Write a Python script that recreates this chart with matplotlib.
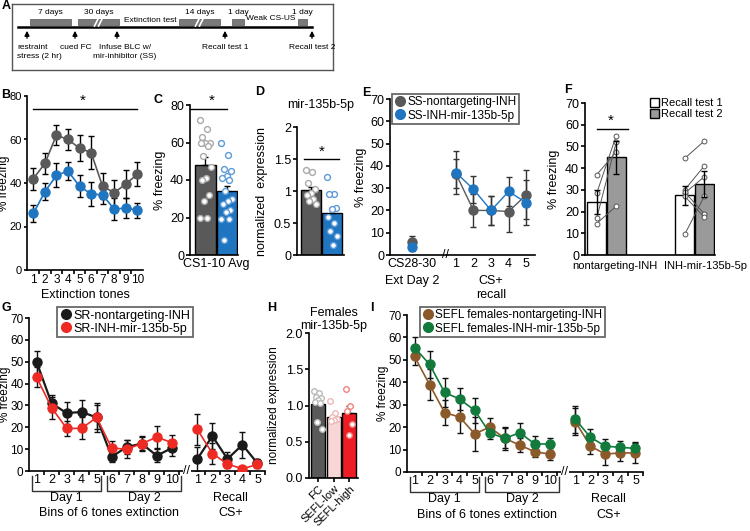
import matplotlib
matplotlib.use('Agg')
import matplotlib.pyplot as plt
from matplotlib.lines import Line2D
from matplotlib.patches import Patch, Rectangle
import numpy as np

plt.rcParams['font.family'] = ['Liberation Sans', 'DejaVu Sans']
plt.rcParams['font.size'] = 8.5
plt.rcParams['axes.linewidth'] = 1.2
plt.rcParams['xtick.major.width'] = 1.2
plt.rcParams['ytick.major.width'] = 1.2
plt.rcParams['xtick.minor.width'] = 1.2
plt.rcParams['xtick.major.size'] = 3
plt.rcParams['ytick.major.size'] = 3
plt.rcParams['xtick.major.pad'] = 1.5
plt.rcParams['ytick.major.pad'] = 1.2

# ---- data ----
# A (timeline text)
a_intervals = ['7 days', '30 days', '14 days', '1 day', '1 day']
a_phases = ['Extinction test', 'Weak CS-US']
a_events = ['restraint\nstress (2 hr)', 'cued FC', 'Infuse BLC w/\nmir-inhibitor (SS)',
            'Recall test 1', 'Recall test 2']

# B
b_tones = list(range(1, 11))
b_ctrl = [42, 49, 62, 60, 56, 54, 38.5, 35.5, 39.5, 44]
b_ctrl_err = [5, 5, 4.5, 5, 6, 7.5, 6, 6, 6.5, 5.5]
b_inh = [26, 36, 43.5, 45.5, 38.5, 35, 34.5, 28, 28.5, 27.5]
b_inh_err = [4, 4, 5.5, 4, 5, 5.5, 4, 5, 4.5, 3.5]

# C
c_means = [48, 34]
c_err = [4.5, 3]
c_ctrl_pts = [72, 67, 63, 60, 60, 60, 58, 53, 47, 41, 40, 32, 29, 20, 20]
c_inh_pts = [59.5, 53.5, 46, 45, 42, 41, 40, 34, 30, 29, 27, 24, 23, 19, 19, 8]

# D
d_means = [1.02, 0.65]
d_err = [0.05, 0.09]
d_ctrl_pts = [1.33, 1.30, 1.12, 1.03, 0.97, 0.93, 0.88, 0.85, 0.80]
d_inh_pts = [1.22, 0.95, 0.95, 0.73, 0.72, 0.6, 0.5, 0.37, 0.3, 0.15]

# E
e_ext_ctrl, e_ext_ctrl_err = 6, 2.5
e_ext_inh, e_ext_inh_err = 3.5, 1.5
e_recall = [1, 2, 3, 4, 5]
e_ctrl = [36.5, 20, 20, 19.5, 27]
e_ctrl_err = [6.5, 7.5, 6.5, 9, 11]
e_inh = [37, 29.5, 20, 28.5, 23.5]
e_inh_err = [9.5, 6, 6.5, 6.5, 10]

# F
f_groups = ['nontargeting-INH', 'INH-mir-135b-5p']
f_r1_means = [24.5, 27.5]
f_r1_err = [5.5, 4.5]
f_r2_means = [45, 32.5]
f_r2_err = [7.5, 6]
f_ctrl_r1 = [37, 28.5, 17, 14.5]
f_ctrl_r2 = [47.5, 55, 52, 22.5]
f_inh_r1 = [44.5, 30, 28.5, 29, 27, 9.5]
f_inh_r2 = [52.5, 41, 36, 19, 17.5, 27]

# G
g_ctrl_ext = [50, 31, 26.5, 27, 24.5, 6.5, 11, 12.5, 7, 10.5]
g_ctrl_ext_err = [5, 4, 5, 5.5, 6.5, 2.5, 3, 3.5, 3, 3.5]
g_ctrl_rec = [5.5, 16, 5.5, 12, 3.5]
g_ctrl_rec_err = [5.5, 6, 3, 6, 2]
g_inh_ext = [43, 29, 19.5, 19.5, 24.5, 10.5, 10, 12.5, 15.5, 13]
g_inh_ext_err = [4.5, 5, 3.5, 5, 5.5, 3, 4, 3, 5, 3.5]
g_inh_rec = [19, 8, 3.2, 1, 3]
g_inh_rec_err = [7, 5, 2, 1, 1]

# H
h_groups = ['FC', 'SEFL-low', 'SEFL-high']
h_means = [1.02, 0.84, 0.90]
h_err = [0.03, 0.02, 0.1]
h_pts = [[1.2, 1.17, 1.12, 1.1, 1.08, 1.05, 1.03, 0.77, 0.68],
         [1.06, 0.9, 0.84, 0.82, 0.8, 0.78],
         [1.23, 0.99, 0.93, 0.75, 0.6]]

# I
i_ctrl_ext = [51.5, 39, 26.5, 24.5, 17, 20, 15, 12, 9, 8]
i_ctrl_ext_err = [4, 7, 5.5, 7, 7.5, 4, 5, 3, 2.5, 2.5]
i_ctrl_rec = [22.5, 11.5, 8, 8.5, 8.5]
i_ctrl_rec_err = [6, 3.5, 5, 3.5, 4.5]
i_inh_ext = [55.5, 48, 35.5, 32.5, 27.5, 17.5, 15, 17.5, 12.5, 12.5]
i_inh_ext_err = [4.5, 6, 6.5, 5, 5.5, 3, 4.5, 4.5, 3.5, 2.5]
i_inh_rec = [23.5, 15.5, 11.5, 11, 10.5]
i_inh_rec_err = [6, 3.5, 3, 3, 3]

GRAY = '#595959'
BLUE = '#1f75c0'
BLACK = '#1a1a1a'
RED = '#ee2a24'
BROWN = '#8b5a2b'
GREEN = '#127a3d'
NARROW = ['Liberation Sans Narrow', 'Liberation Sans', 'DejaVu Sans']

W, H = 750, 531
fig = plt.figure(figsize=(7.5, 5.31), dpi=100)


def box(l, t, r, b):
    return fig.add_axes([l / W, 1 - b / H, (r - l) / W, (b - t) / H])


def clean(ax):
    ax.spines['top'].set_visible(False)
    ax.spines['right'].set_visible(False)


def jitter(n, w):
    return (((np.arange(n) * 0.618) % 1.0) - 0.5) * w


def letter(x, y, s):
    fig.text(x / W, 1 - y / H, s, fontsize=9, fontweight='bold', va='center', ha='left')


# ---- A ----
axA = box(12, 4, 333, 70)
axA.set_xlim(12, 333)
axA.set_ylim(70, 4)
axA.set_xticks([])
axA.set_yticks([])
for s in axA.spines.values():
    s.set_color('#555555')
    s.set_linewidth(1.0)
axA.plot([18, 312], [27, 27], color='k', lw=1.8)
bar_x = [(30, 71), (78, 119), (179, 220), (232, 244), (298, 307)]
for (x0, x1), lab in zip(bar_x, a_intervals):
    axA.add_patch(Rectangle((x0, 19), x1 - x0, 6, facecolor='#7a7a7a', edgecolor='#555555', lw=0.5))
    axA.text((x0 + x1) / 2, 12, lab, ha='center', va='center', fontsize=6, family=NARROW)
for xm in [98.5, 199.5]:
    for dx in [-2, 2]:
        axA.plot([xm + dx - 2, xm + dx + 2], [26, 18], color='white', lw=1.2)
axA.text(150, 20, a_phases[0], ha='center', va='center', fontsize=6, family=NARROW)
axA.text(271, 18, a_phases[1], ha='center', va='center', fontsize=6, family=NARROW)
arrow_x = [27, 75, 117, 225, 312]
text_x = [17, 76, 125, 225, 312]
for xa, xt, lab in zip(arrow_x, text_x, a_events):
    axA.annotate('', xy=(xa, 28), xytext=(xa, 41),
                 arrowprops=dict(arrowstyle='-|>', color='k', lw=1.0, mutation_scale=7))
    axA.text(xt, 44, lab, ha='left' if xt == 17 else 'center', va='top', fontsize=6,
             linespacing=1.45, family=NARROW)

# ---- B ----
axB = box(27, 96, 143, 270)
clean(axB)
axB.errorbar(b_tones, b_ctrl, yerr=b_ctrl_err, color=GRAY, marker='o', ms=6.5, lw=1.2,
             ecolor='k', elinewidth=1, capsize=2.5, zorder=3)
axB.errorbar(b_tones, b_inh, yerr=b_inh_err, color=BLUE, marker='o', ms=6.5, lw=1.2,
             ecolor='k', elinewidth=1, capsize=2.5, zorder=3)
axB.set_xlim(0.45, 10.5)
axB.set_ylim(0, 80)
axB.set_yticks([0, 20, 40, 60, 80])
axB.set_xticks(b_tones)
axB.set_xticklabels([str(t) for t in b_tones], fontsize=8.5)
axB.tick_params(axis='x', length=0, pad=3)
axB.set_xticks(np.arange(1.5, 10.5), minor=True)
axB.tick_params(axis='x', which='minor', length=3)
axB.tick_params(axis='y', labelsize=8, length=2.5, pad=1)
axB.set_xlabel('Extinction tones', fontsize=9, labelpad=2)
axB.set_ylabel('% freezing', fontsize=8.5)
axB.yaxis.set_label_coords(-0.15, 0.5)
axB.plot([1, 10], [74, 74], color='k', lw=1)
axB.text(5.3, 74.5, '*', ha='center', va='bottom', fontsize=11)

# ---- C ----
axC = box(190, 105, 238, 255)
clean(axC)
axC.bar([0, 1], c_means, width=0.95, color=[GRAY, BLUE], edgecolor='k', lw=1, zorder=1)
axC.errorbar([0, 1], c_means, yerr=[[0, 0], c_err], fmt='none', ecolor='k', elinewidth=1,
             capsize=2.5, zorder=2)
axC.scatter(0 + jitter(len(c_ctrl_pts), 0.55), c_ctrl_pts, s=18, facecolor='white',
            edgecolor='#aaaaaa', lw=1, zorder=3)
axC.scatter(1 + jitter(len(c_inh_pts), 0.55), c_inh_pts, s=18, facecolor='white',
            edgecolor='#5d9bd6', lw=1, zorder=3)
axC.set_xlim(-0.72, 1.52)
axC.set_ylim(0, 80)
axC.set_yticks([0, 20, 40, 60, 80])
axC.tick_params(axis='y', labelsize=9)
axC.set_xticks([0.5])
axC.set_xticklabels(['CS1-10 Avg'], fontsize=9)
axC.tick_params(axis='x', length=0, pad=2)
axC.set_ylabel('% freezing', fontsize=9)
axC.yaxis.set_label_coords(-0.5, 0.5)
axC.plot([-0.72, 1], [78, 78], color='k', lw=1, clip_on=False)
axC.text(0.3, 78.5, '*', ha='center', va='bottom', fontsize=11)

# ---- D ----
axD = box(297, 127, 344, 255)
clean(axD)
axD.bar([0, 1], d_means, width=0.95, color=[GRAY, BLUE], edgecolor='k', lw=1, zorder=1)
axD.errorbar([0, 1], d_means, yerr=[[0, 0], d_err], fmt='none', ecolor='k', elinewidth=1,
             capsize=2.5, zorder=2)
axD.scatter(0 + jitter(len(d_ctrl_pts), 0.5), d_ctrl_pts, s=18, facecolor='white',
            edgecolor='#aaaaaa', lw=1, zorder=3)
axD.scatter(1 + jitter(len(d_inh_pts), 0.5), d_inh_pts, s=18, facecolor='white',
            edgecolor='#5d9bd6', lw=1, zorder=3)
axD.set_xlim(-0.65, 1.55)
axD.set_ylim(0, 2)
axD.set_yticks([0, 0.5, 1, 1.5, 2])
axD.set_yticklabels(['0', '0.5', '1', '1.5', '2'])
axD.tick_params(axis='y', labelsize=9)
axD.set_xticks([])
axD.set_ylabel('normalized  expression', fontsize=9)
axD.yaxis.set_label_coords(-0.62, 0.5)
axD.set_title('mir-135b-5p', fontsize=9, pad=14)
axD.plot([-0.3, 1.3], [1.5, 1.5], color='k', lw=1)
axD.text(0.5, 1.51, '*', ha='center', va='bottom', fontsize=11)

# ---- E ----
axE = box(390, 99, 535, 255)
clean(axE)
e_pos = [p + 1.5 for p in e_recall]
axE.errorbar([0], [e_ext_ctrl], yerr=[e_ext_ctrl_err], color=GRAY, marker='o', ms=6.5,
             ecolor='#333333', elinewidth=1, capsize=2.5, zorder=3)
axE.errorbar([0], [e_ext_inh], yerr=[e_ext_inh_err], color=BLUE, marker='o', ms=6.5,
             ecolor='#333333', elinewidth=1, capsize=2.5, zorder=3)
axE.errorbar(e_pos, e_ctrl, yerr=e_ctrl_err, color=GRAY, marker='o', ms=6.5, lw=1,
             ecolor='#333333', elinewidth=1, capsize=2.5, zorder=3)
axE.errorbar(e_pos, e_inh, yerr=e_inh_err, color=BLUE, marker='o', ms=6.5, lw=1,
             ecolor='#333333', elinewidth=1, capsize=2.5, zorder=3)
axE.set_xlim(-1.25, 7.0)
axE.set_ylim(0, 70)
axE.set_yticks(range(0, 71, 10))
axE.tick_params(axis='y', labelsize=9)
axE.set_xticks([0] + e_pos)
axE.set_xticklabels(['CS28-30'] + [str(r) for r in e_recall], fontsize=9)
axE.tick_params(axis='x', length=0, pad=2)
axE.text(1.9, 0, '//', ha='center', va='center', fontsize=9,
         transform=axE.transData, clip_on=False)
tE = axE.get_xaxis_transform()
axE.text(0, -0.13, 'Ext Day 2', ha='center', va='top', fontsize=9, transform=tE)
axE.text(e_pos[2], -0.13, 'CS+', ha='center', va='top', fontsize=9, transform=tE)
axE.text(e_pos[2], -0.215, 'recall', ha='center', va='top', fontsize=9, transform=tE)
axE.set_ylabel('% freezing', fontsize=9)
axE.yaxis.set_label_coords(-0.16, 0.5)
hE = [Line2D([], [], marker='o', ls='', color=GRAY, ms=7),
      Line2D([], [], marker='o', ls='', color=BLUE, ms=7)]
legE = fig.legend(hE, ['SS-nontargeting-INH', 'SS-INH-mir-135b-5p'], loc='upper left',
                  bbox_to_anchor=(392 / W, 1 - 94 / H), fontsize=8.5, frameon=True,
                  fancybox=False, borderpad=0.2, handletextpad=0.1, labelspacing=0.1,
                  handlelength=1.0, borderaxespad=0)
legE.get_frame().set_edgecolor('#444444')
legE.get_frame().set_linewidth(1.3)

# ---- F ----
axF = box(585, 103, 715, 255)
clean(axF)
f_r1_x = [0, 4.5]
f_r2_x = [1, 5.5]
axF.bar(f_r1_x, f_r1_means, width=0.95, color='white', edgecolor='k', lw=1, zorder=1)
axF.bar(f_r2_x, f_r2_means, width=0.95, color='#9a9a9a', edgecolor='k', lw=1, zorder=1)
axF.errorbar(f_r1_x, f_r1_means, yerr=f_r1_err, fmt='none', ecolor='k', elinewidth=1,
             capsize=2.5, zorder=4)
axF.errorbar(f_r2_x, f_r2_means, yerr=f_r2_err, fmt='none', ecolor='k', elinewidth=1,
             capsize=2.5, zorder=4)
for r1, r2 in zip(f_ctrl_r1, f_ctrl_r2):
    axF.plot([f_r1_x[0], f_r2_x[0]], [r1, r2], color='#555555', lw=0.7, marker='o', ms=3.5,
             mfc='white', mec='#555555', mew=0.7, zorder=3)
for r1, r2 in zip(f_inh_r1, f_inh_r2):
    axF.plot([f_r1_x[1], f_r2_x[1]], [r1, r2], color='#555555', lw=0.7, marker='o', ms=3.5,
             mfc='white', mec='#555555', mew=0.7, zorder=3)
axF.set_xlim(-0.6, 6.05)
axF.set_ylim(0, 70)
axF.set_yticks(range(0, 71, 10))
axF.tick_params(axis='y', labelsize=9)
axF.set_xticks([0.95, 5.55])
axF.set_xticklabels(f_groups, fontsize=8)
axF.tick_params(axis='x', length=0, pad=4.5)
axF.set_ylabel('% freezing', fontsize=9)
axF.yaxis.set_label_coords(-0.19, 0.5)
axF.plot([0, 1.6], [58, 58], color='k', lw=1)
axF.text(0.7, 58.5, '*', ha='center', va='bottom', fontsize=11)
hF = [Patch(facecolor='white', edgecolor='k', lw=1), Patch(facecolor='#9a9a9a', edgecolor='k', lw=1)]
fig.legend(hF, ['Recall test 1', 'Recall test 2'], loc='upper left',
           bbox_to_anchor=(650 / W, 1 - 98 / H), fontsize=8, frameon=False,
           handlelength=0.8, handleheight=0.8, handletextpad=0.2, labelspacing=0.1,
           borderpad=0, borderaxespad=0)


# ---- G and I (shared layout) ----
def extinction_panel(ax, ext1, ext1_err, rec1, rec1_err, c1, ext2, ext2_err, rec2, rec2_err, c2,
                     lw1, lw2):
    ext_x = np.arange(1, 11)
    rec_x = 11.7 + np.arange(5)
    for ys, es, c, lw in [(ext1, ext1_err, c1, lw1), (ext2, ext2_err, c2, lw2)]:
        ax.errorbar(ext_x, ys, yerr=es, color=c, marker='o', ms=6.5, lw=lw,
                    ecolor='#111111', elinewidth=1, capsize=2, zorder=3)
    for ys, es, c, lw in [(rec1, rec1_err, c1, lw1), (rec2, rec2_err, c2, lw2)]:
        ax.errorbar(rec_x, ys, yerr=es, color=c, marker='o', ms=6.5, lw=lw,
                    ecolor='#111111', elinewidth=1, capsize=2, zorder=3)
    clean(ax)
    ax.set_xlim(0.5, 16.2)
    ax.set_ylim(0, 70)
    ax.set_yticks(range(0, 71, 10))
    ax.tick_params(axis='y', labelsize=8.5, pad=1)
    ax.set_xticks(list(ext_x) + list(rec_x))
    ax.set_xticklabels([str(i) for i in range(1, 11)] + [str(i) for i in range(1, 6)], fontsize=9)
    ax.tick_params(axis='x', length=0, pad=2)
    ax.set_xticks(list(np.arange(1.5, 10.6)) + list(rec_x + 0.5), minor=True)
    ax.tick_params(axis='x', which='minor', length=3)
    ax.text(11.0, 0, '//', ha='center', va='center', fontsize=9, clip_on=False,
            bbox=dict(facecolor='white', edgecolor='none', pad=0.3))
    t = ax.get_xaxis_transform()
    for x0, x1, lab in [(0.67, 5.26, 'Day 1'), (5.66, 10.64, 'Day 2')]:
        ax.plot([x0, x0, x1, x1], [-0.03, -0.13, -0.13, -0.03], color='#333333', lw=1,
                transform=t, clip_on=False)
        ax.text((x0 + x1) / 2, -0.135, lab, ha='center', va='top', fontsize=9, transform=t)
    ax.text(5.8, -0.235, 'Bins of 6 tones extinction', ha='center', va='top', fontsize=9,
            transform=t)
    ax.text(13.9, -0.135, 'Recall', ha='center', va='top', fontsize=9, transform=t)
    ax.text(13.9, -0.235, 'CS+', ha='center', va='top', fontsize=9, transform=t)
    ax.set_ylabel('% freezing', fontsize=8.5)
    ax.yaxis.set_label_coords(-0.075, 0.5)


axG = box(29, 318, 265, 471)
extinction_panel(axG, g_ctrl_ext, g_ctrl_ext_err, g_ctrl_rec, g_ctrl_rec_err, BLACK,
                 g_inh_ext, g_inh_ext_err, g_inh_rec, g_inh_rec_err, RED, 1.6, 1.2)
hG = [Line2D([], [], marker='o', ls='', color=BLACK, ms=7),
      Line2D([], [], marker='o', ls='', color=RED, ms=7)]
legG = fig.legend(hG, ['SR-nontargeting-INH', 'SR-INH-mir-135b-5p'], loc='upper left',
                  bbox_to_anchor=(57 / W, 1 - 307 / H), fontsize=9, frameon=True,
                  fancybox=False, borderpad=0.2, handletextpad=0.1, labelspacing=0.1,
                  handlelength=1.0, borderaxespad=0)
legG.get_frame().set_edgecolor('#444444')
legG.get_frame().set_linewidth(1.3)

axI = box(407, 315, 643, 472)
extinction_panel(axI, i_ctrl_ext, i_ctrl_ext_err, i_ctrl_rec, i_ctrl_rec_err, BROWN,
                 i_inh_ext, i_inh_ext_err, i_inh_rec, i_inh_rec_err, GREEN, 1.2, 1.2)
hI = [Line2D([], [], marker='o', ls='', color=BROWN, ms=7),
      Line2D([], [], marker='o', ls='', color=GREEN, ms=7)]
legI = fig.legend(hI, ['SEFL females-nontargeting-INH', 'SEFL females-INH-mir-135b-5p'],
                  loc='upper left', bbox_to_anchor=(420 / W, 1 - 307 / H), fontsize=8.5,
                  frameon=True, fancybox=False, borderpad=0.2, handletextpad=0.1,
                  labelspacing=0.1, handlelength=1.0, borderaxespad=0)
legI.get_frame().set_edgecolor('#444444')
legI.get_frame().set_linewidth(1.3)

# ---- H ----
axH = box(309, 333, 358, 478)
clean(axH)
h_colors = [GRAY, '#f8d6d6', '#ee1c24']
h_edges = ['#bbbbbb', '#f0b8b8', '#f08080']
axH.bar(range(3), h_means, width=0.9, color=h_colors, edgecolor='k', lw=1, zorder=1)
axH.errorbar(range(3), h_means, yerr=[[0, 0, 0], h_err], fmt='none', ecolor='k',
             elinewidth=1, capsize=2, zorder=2)
for i, pts in enumerate(h_pts):
    axH.scatter(i + jitter(len(pts), 0.5), pts, s=16, facecolor='white', edgecolor=h_edges[i],
                lw=1, zorder=3)
axH.set_xlim(-0.6, 2.55)
axH.set_ylim(0, 2)
axH.set_yticks([0, 0.5, 1, 1.5, 2])
axH.set_yticklabels(['0.0', '0.5', '1.0', '1.5', '2.0'])
axH.tick_params(axis='y', labelsize=9)
axH.set_xticks(range(3))
axH.set_xticklabels(h_groups, rotation=45, ha='right', rotation_mode='anchor', fontsize=8)
axH.tick_params(axis='x', pad=1)
axH.set_ylabel('normalized expression', fontsize=8.5)
axH.yaxis.set_label_coords(-0.59, 0.5)
axH.set_title('Females\nmir-135b-5p', fontsize=9, pad=3, linespacing=1.1)

# panel letters
for x, y, s in [(2, 6, 'A'), (1, 95, 'B'), (154, 100, 'C'), (255, 92, 'D'), (362, 93, 'E'),
                (564, 90, 'F'), (2, 308, 'G'), (267, 308, 'H'), (370, 308, 'I')]:
    letter(x, y, s)

fig.savefig('out.png', dpi=100)
